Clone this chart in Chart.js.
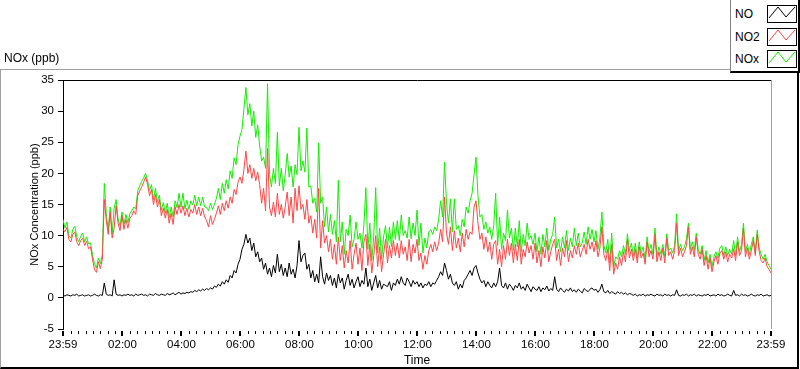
<!DOCTYPE html>
<html><head><meta charset="utf-8">
<script src="https://cdn.jsdelivr.net/npm/chart.js@4.4.1/dist/chart.umd.min.js"></script>
<style>
html,body{margin:0;padding:0;background:#fff;}
#wrap{position:relative;width:800px;height:369px;overflow:hidden;font-family:"Liberation Sans",Arial,sans-serif;color:#000;}
#frame{position:absolute;left:0;top:69px;width:799px;height:300px;box-sizing:border-box;border-top:1px solid #a0a0a0;border-left:1px solid #a0a0a0;border-right:2px solid #000;border-bottom:2px solid #000;}
canvas{position:absolute;left:0;top:0;}
#title{position:absolute;left:4px;top:50px;font-size:12px;line-height:16px;white-space:nowrap;}
#legend{position:absolute;left:730px;top:0;width:70px;height:73px;box-sizing:border-box;background:#fff;border-left:1px solid #808080;border-bottom:2px solid #000;border-right:2px solid #000;}
.lab{position:absolute;left:4px;font-size:12px;line-height:16px;white-space:nowrap;}
.sw{position:absolute;left:36px;width:30px;height:18px;box-sizing:border-box;border:1px solid #000;background:#fff;}
.sw svg{position:absolute;left:0;top:0;}
</style>
</head><body>
<div id="wrap">
  <div id="frame"></div>
  <canvas id="c" width="800" height="369"></canvas>
  <div id="title"></div>
  <div id="legend"></div>
</div>
<script>
// ---- data: 4-minute samples starting at 23:59 ----
const SAMPLE_MINUTES = 4;
const NO = [
0.4,0.3,0.5,0.4,0.3,0.5,0.4,0.6,0.3,0.4,
0.5,0.3,0.4,0.5,0.3,0.4,0.6,0.4,0.3,0.5,
0.4,2.4,0.6,0.4,0.5,0.3,2.9,0.6,0.4,0.5,
0.3,0.5,0.4,0.6,0.4,0.5,0.3,0.6,0.4,0.5,
0.6,0.4,0.5,0.3,0.6,0.5,0.4,0.7,0.5,0.4,
0.6,0.5,0.4,0.7,0.5,0.6,0.8,0.5,0.7,0.9,
0.6,0.8,0.7,0.9,0.8,1.0,0.9,1.2,1.0,1.3,
1.1,1.4,1.2,1.5,1.3,1.6,1.4,1.9,1.7,2.2,
1.9,2.6,2.2,2.9,2.5,3.6,3.2,4.4,4.0,5.4,
6.2,7.8,8.6,10.2,8.8,9.6,7.6,8.8,6.6,7.4,
5.8,6.4,4.6,5.6,3.8,4.8,3.4,5.2,4.0,7.0,
4.2,5.4,3.6,4.8,3.4,5.6,3.8,4.6,3.2,5.2,
9.2,5.8,6.8,7.2,4.6,5.4,3.2,4.4,2.6,3.8,
2.4,6.6,3.4,2.2,4.0,2.8,3.6,2.0,3.2,1.6,
3.8,2.4,3.2,1.4,2.8,3.8,2.0,3.0,1.6,2.6,
3.4,1.8,2.8,2.2,4.8,1.8,3.0,1.2,2.4,3.6,
1.6,2.8,1.4,2.2,2.0,1.8,2.6,1.2,2.4,2.0,
3.0,2.2,3.4,2.4,2.0,3.2,2.6,1.8,2.8,2.2,
2.6,1.8,2.4,1.6,2.2,2.0,2.6,1.8,2.4,2.2,
2.8,3.4,4.2,3.6,5.6,4.4,3.0,3.8,2.4,2.0,
2.6,1.4,2.2,1.6,2.8,3.2,3.8,4.4,3.6,4.8,
5.2,4.0,3.0,2.4,2.8,1.8,2.6,2.0,1.6,2.4,
1.8,2.6,4.8,2.0,1.6,2.4,1.4,2.2,1.8,1.2,
2.0,1.6,2.4,1.4,1.8,1.2,2.2,1.6,1.0,1.8,
1.4,1.2,1.8,1.0,1.6,1.3,1.9,1.1,1.5,1.2,
3.4,1.4,1.0,1.6,1.2,0.9,1.4,1.1,1.6,1.0,
1.3,0.9,1.4,1.1,0.8,1.5,1.2,1.0,1.4,1.6,
1.2,1.4,0.9,1.3,2.2,1.0,0.8,1.2,0.7,1.0,
0.8,0.6,1.0,0.7,0.9,0.6,0.8,0.5,0.7,0.6,
0.4,0.6,0.3,0.5,0.4,0.6,0.3,0.5,0.4,0.6,
0.4,0.3,0.6,0.4,0.5,0.3,0.6,0.4,0.5,0.3,
0.5,0.4,1.3,0.4,0.3,0.5,0.4,0.6,0.3,0.5,
0.4,0.6,0.3,0.5,0.4,0.3,0.5,0.4,0.6,0.3,
0.4,0.5,0.3,0.6,0.4,0.5,0.3,0.4,0.6,0.4,
0.3,1.2,0.4,0.5,0.3,0.6,0.4,0.5,0.3,0.4,
0.6,0.4,0.3,0.5,0.4,0.6,0.3,0.4,0.5,0.3,0.4
];
const NO2 = [
11.0,10.6,11.3,9.4,9.0,10.2,10.6,9.0,8.4,9.2,
9.6,8.4,9.1,7.9,8.2,6.2,4.6,4.1,5.8,4.7,
6.2,15.8,12.5,10.2,13.8,9.6,11.2,14.8,12.0,10.8,
13.2,11.0,12.6,11.2,12.8,13.2,14.0,13.4,16.4,17.2,
17.8,18.6,19.4,18.2,16.4,17.4,15.0,16.6,14.6,15.8,
13.2,14.4,12.8,14.2,12.0,13.6,11.8,14.6,13.4,15.0,
13.6,14.8,13.2,14.4,13.0,14.2,13.6,15.0,13.4,14.6,
13.2,14.4,13.0,12.4,11.4,13.2,11.8,12.6,13.6,14.8,
13.4,15.2,14.0,15.6,14.4,16.2,15.2,17.4,16.6,18.6,
19.4,18.4,20.6,23.6,20.0,21.4,19.2,20.8,18.8,20.2,
18.2,15.2,17.6,14.0,24.0,14.6,13.2,15.4,13.0,16.8,
13.4,15.0,12.8,14.6,17.0,13.2,16.2,12.0,17.6,14.0,
18.0,14.2,15.0,12.6,15.8,12.0,13.2,10.4,12.6,9.6,
17.6,8.0,12.4,8.8,10.0,7.4,9.4,6.2,8.6,5.4,
9.8,6.0,8.4,4.8,7.6,5.6,9.2,4.6,7.0,8.8,
5.4,8.0,4.4,9.0,10.2,5.2,8.6,4.0,6.8,10.0,
5.0,8.2,4.2,7.0,9.4,5.6,8.4,6.4,9.2,6.8,
8.8,6.4,9.2,7.0,8.2,6.0,9.4,5.8,8.6,7.2,
9.4,6.0,7.2,4.6,6.8,5.4,7.6,8.6,7.4,9.0,
7.6,8.8,11.0,9.0,16.2,10.4,8.6,11.4,7.6,10.8,
8.0,9.6,7.4,10.4,8.2,11.0,9.4,10.6,10.2,14.6,
15.6,12.0,9.4,10.4,7.8,9.8,7.4,9.0,6.2,8.6,
9.2,5.4,7.8,5.0,8.4,6.2,9.4,6.8,8.8,5.6,
8.6,6.0,9.4,5.4,7.8,6.6,9.0,7.2,8.4,6.2,
8.8,5.6,7.6,5.0,8.2,6.4,9.2,5.8,7.4,8.6,
9.4,6.0,7.8,5.2,8.0,6.6,9.2,5.8,7.6,6.4,
8.4,7.0,8.8,6.6,7.6,8.6,7.0,9.4,7.8,9.0,
7.4,9.2,6.6,8.0,11.4,7.0,6.0,7.8,4.4,8.6,
3.8,5.6,4.6,6.6,5.2,7.4,5.8,9.4,6.4,7.8,
6.0,7.8,5.6,8.2,6.4,7.2,5.4,9.0,6.6,7.6,
6.2,10.2,5.8,7.4,6.0,8.0,5.6,9.6,6.8,7.4,
6.2,7.6,12.0,6.8,8.0,6.6,7.4,8.4,11.4,7.0,
8.2,6.6,9.8,7.0,6.2,7.8,5.2,6.8,4.6,6.4,
4.2,5.8,6.8,5.4,7.2,7.6,6.2,7.4,5.8,7.0,
6.4,7.8,6.0,9.0,6.8,7.6,11.2,6.6,8.0,6.2,
7.6,9.2,6.8,10.2,7.4,6.0,5.6,6.4,5.0,4.6,4.0
];
const NOX = [
12.6,11.2,12.2,10.0,9.6,11.0,11.5,9.8,9.0,9.9,
10.4,9.0,9.8,8.7,8.8,6.9,5.5,4.8,6.4,5.5,
6.9,18.4,13.5,10.9,14.6,10.3,14.4,15.8,12.7,11.6,
13.8,11.8,13.4,12.1,13.5,14.0,14.6,14.3,17.2,18.0,
18.7,19.3,20.0,18.8,17.3,18.2,15.8,17.6,15.5,16.5,
14.1,15.3,13.6,15.2,12.9,14.6,13.0,15.6,14.5,16.8,
14.6,16.8,14.3,15.7,14.2,15.6,14.9,16.5,14.8,16.2,
14.8,16.2,14.6,14.5,14.0,15.2,14.2,15.0,16.0,17.6,
15.8,18.4,16.8,19.0,17.5,20.4,19.2,22.5,21.4,24.6,
26.0,27.0,30.4,33.8,29.4,31.2,27.6,30.0,25.8,27.8,
24.4,22.0,22.6,20.8,34.4,19.8,17.8,20.8,18.4,26.6,
18.0,20.8,17.2,19.8,23.2,19.4,21.2,17.8,21.4,19.8,
27.4,20.4,22.0,20.2,27.3,17.8,18.0,15.2,16.0,13.8,
24.9,15.2,16.2,11.4,14.6,10.6,13.4,10.2,12.4,9.0,
18.9,9.0,12.2,7.0,11.0,10.0,13.3,8.2,9.4,12.2,
9.4,10.4,8.0,11.7,17.7,7.8,12.0,6.0,9.8,17.7,
7.2,11.2,6.2,9.8,11.6,8.0,11.4,8.2,12.2,9.4,
12.4,9.2,13.3,10.0,10.8,9.6,13.0,9.5,12.0,10.0,
14.1,8.4,12.0,7.2,9.6,8.0,10.6,11.0,10.2,11.4,
10.8,12.6,15.6,13.0,21.8,15.2,12.0,15.9,10.6,15.9,
11.0,11.6,10.0,12.6,11.4,14.6,13.6,15.6,16.8,19.8,
22.6,16.4,13.0,13.4,11.0,12.2,10.4,11.4,9.4,11.6,
16.8,8.4,13.0,7.8,10.4,9.2,14.1,9.6,11.2,7.6,
11.2,8.2,12.4,7.4,10.2,8.4,12.0,9.4,10.0,8.6,
10.4,7.4,9.8,7.0,10.2,8.2,11.2,7.6,9.4,10.2,
13.0,8.0,9.4,7.4,9.8,8.0,10.8,7.6,9.6,8.2,
11.2,8.4,10.4,8.2,8.8,10.6,8.6,11.4,9.4,11.0,
9.0,10.8,7.8,9.6,13.8,8.4,7.2,9.4,5.6,10.4,
5.0,6.6,6.2,7.6,6.6,8.4,7.0,10.3,7.6,8.8,
6.8,8.8,6.4,9.0,7.2,8.2,6.2,9.8,7.4,8.6,
7.0,11.2,6.8,8.2,7.0,8.6,6.6,10.3,7.6,8.0,
7.2,8.4,13.5,7.6,8.6,7.6,8.2,9.4,12.0,7.8,
9.0,7.6,10.4,7.8,7.0,8.4,6.0,7.6,5.6,7.0,
5.0,6.6,7.4,6.4,8.0,8.4,6.8,8.2,6.8,7.8,
7.0,9.2,6.8,9.8,7.4,8.6,12.0,7.4,8.6,7.0,
8.6,9.8,7.4,10.9,8.0,7.0,6.2,7.0,5.8,5.2,4.6
];
const seriesNames = ['NO','NO2','NOx'];
const seriesColors = ['#000000','#ff4646','#14ee00'];
const tickMinutes = [0,121,241,361,481,601,721,841,961,1081,1201,1321,1440];
const tickLabels = ['23:59','02:00','04:00','06:00','08:00','10:00','12:00','14:00','16:00','18:00','20:00','22:00','23:59'];
const MINOR_STEP = 15;
const Y_MIN = -5, Y_MAX = 35, Y_STEP = 5;
const chartTitle = 'NOx (ppb)';
const yTitle = 'NOx Concentration (ppb)';
const xTitle = 'Time';

// ---- legend (HTML) ----
const legend = document.getElementById('legend');
const swTops = [5, 28, 50];
seriesNames.forEach((name, k) => {
  const lab = document.createElement('div');
  lab.className = 'lab';
  lab.style.top = (swTops[k] + 1) + 'px';
  lab.textContent = name;
  legend.appendChild(lab);
  const sw = document.createElement('div');
  sw.className = 'sw';
  sw.style.top = swTops[k] + 'px';
  sw.innerHTML = '<svg width="28" height="16" viewBox="0 0 28 16"><polyline points="1,12 10,1 18,11 27,1" fill="none" stroke="' + seriesColors[k] + '" stroke-width="1"/></svg>';
  legend.appendChild(sw);
});
document.getElementById('title').textContent = chartTitle;

// ---- chart ----
Chart.defaults.font.family = '"Liberation Sans",Arial,sans-serif';
Chart.defaults.font.size = 11.5;
Chart.defaults.color = '#000';

function toPoints(arr) { return arr.map((v, i) => ({ x: i * SAMPLE_MINUTES, y: v })); }

const framePlugin = {
  id: 'frame',
  afterDraw(chart) {
    const { ctx, chartArea: { left, right, top, bottom } } = chart;
    const xs = chart.scales.x;
    ctx.save();
    ctx.lineWidth = 1;
    ctx.strokeStyle = '#000';
    ctx.beginPath(); ctx.moveTo(left, top + 0.5); ctx.lineTo(right + 1, top + 0.5); ctx.stroke();
    ctx.strokeStyle = '#a0a0a0';
    ctx.beginPath(); ctx.moveTo(right + 0.5, top); ctx.lineTo(right + 0.5, bottom); ctx.stroke();
    ctx.strokeStyle = '#000';
    ctx.beginPath();
    for (let m = 1; m < xs.max; m += MINOR_STEP) {
      if (tickMinutes.some(t => Math.abs(t - m) < 5)) continue;
      const px = Math.round(xs.getPixelForValue(m)) + 0.5;
      ctx.moveTo(px, bottom + 2); ctx.lineTo(px, bottom + 5);
    }
    ctx.stroke();
    ctx.lineWidth = 2;
    ctx.beginPath();
    tickMinutes.forEach(m => {
      const px = Math.round(xs.getPixelForValue(m));
      ctx.moveTo(px, bottom + 2); ctx.lineTo(px, bottom + 7);
    });
    ctx.stroke();
    ctx.restore();
  }
};

new Chart(document.getElementById('c'), {
  type: 'line',
  data: {
    datasets: [
      { label: seriesNames[0], data: toPoints(NO), borderColor: seriesColors[0] },
      { label: seriesNames[1], data: toPoints(NO2), borderColor: seriesColors[1] },
      { label: seriesNames[2], data: toPoints(NOX), borderColor: seriesColors[2] }
    ].map(d => Object.assign(d, { borderWidth: 1, pointRadius: 0, tension: 0, fill: false }))
  },
  options: {
    responsive: false,
    animation: false,
    devicePixelRatio: 1,
    layout: { padding: { left: 28, right: 29, top: 80, bottom: 1 } },
    plugins: { legend: { display: false }, tooltip: { enabled: false }, title: { display: false } },
    scales: {
      x: {
        type: 'linear',
        min: tickMinutes[0],
        max: tickMinutes[tickMinutes.length - 1],
        afterBuildTicks: s => { s.ticks = tickMinutes.map(v => ({ value: v })); },
        afterFit: s => { s.height = 39; },
        ticks: {
          autoSkip: false, maxRotation: 0, padding: 3,
          callback: v => { const k = tickMinutes.indexOf(v); return k >= 0 ? tickLabels[k] : ''; }
        },
        grid: { drawOnChartArea: false, drawTicks: true, tickLength: 6, tickColor: 'rgba(0,0,0,0)' },
        border: { display: false },
        title: { display: true, text: xTitle, padding: 0, font: { size: 12 } }
      },
      y: {
        min: Y_MIN, max: Y_MAX,
        afterFit: s => { s.width = 35; },
        ticks: { stepSize: Y_STEP, padding: 4 },
        grid: { drawOnChartArea: false, drawTicks: true, tickLength: 5, tickColor: '#000' },
        border: { display: true, color: '#000', width: 1 },
        title: { display: true, text: yTitle, padding: 0, font: { size: 11 } }
      }
    }
  },
  plugins: [framePlugin]
});
</script>
</body></html>
